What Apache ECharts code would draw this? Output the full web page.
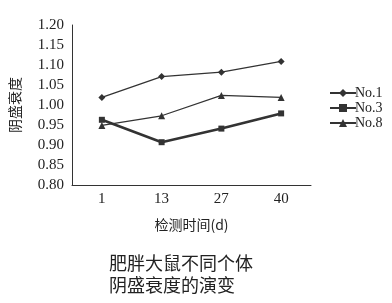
<!DOCTYPE html>
<html><head><meta charset="utf-8">
<script src="https://cdn.jsdelivr.net/npm/echarts@6/dist/echarts.min.js"></script>
<style>html,body{margin:0;padding:0;background:#fff}#c{width:392px;height:303px}</style>
</head><body><div id="c"></div>
<script>
const categories = ['1', '13', '27', '40'];
const no1 = [1.019, 1.071, 1.082, 1.109];
const no3 = [0.963, 0.907, 0.941, 0.979];
const no8 = [0.949, 0.973, 1.024, 1.019];
const seriesNames = ['No.1', 'No.3', 'No.8'];
const yTicks = {min: 0.80, max: 1.20, interval: 0.05};

const serif = '"Liberation Serif", "DejaVu Serif", serif';
const cjk = '"Noto Sans CJK SC", sans-serif';
const ink = '#333';
const chart = echarts.init(document.getElementById('c'));
function s(name, data, symbol, width, size) {
  return {
    name, type: 'line', data, symbol, symbolSize: size,
    lineStyle: {color: ink, width}, itemStyle: {color: ink},
    emphasis: {disabled: true}, animation: false
  };
}
chart.setOption({
  animation: false,
  grid: {left: 66, top: 25, right: 81, bottom: 118},
  title: {
    text: '肥胖大鼠不同个体\n阴盛衰度的演变',
    left: 104, top: 247,
    textStyle: {fontFamily: cjk, fontSize: 18, fontWeight: 'normal', color: '#222', lineHeight: 22}
  },
  legend: {
    orient: 'vertical', left: 324, top: 81, itemGap: 1, itemWidth: 26, itemHeight: 10,
    data: seriesNames,
    textStyle: {fontFamily: serif, fontSize: 14, color: '#222', padding: [0,0,0,-6]}
  },
  xAxis: {
    type: 'category', data: categories, boundaryGap: true,
    name: '检测时间(d)', nameLocation: 'middle', nameGap: 33,
    nameTextStyle: {fontFamily: cjk, fontSize: 14, color: '#222'},
    axisLine: {lineStyle: {color: ink, width: 1}},
    axisTick: {inside: true, length: 3, lineStyle: {color: ink}},
    axisLabel: {fontFamily: serif, fontSize: 15, color: '#222', margin: 7}
  },
  yAxis: {
    type: 'value', min: yTicks.min, max: yTicks.max, interval: yTicks.interval,
    name: '阴盛衰度', nameLocation: 'middle', nameGap: 50, nameRotate: 90,
    nameTextStyle: {fontFamily: cjk, fontSize: 14, color: '#222'},
    axisLine: {show: true, lineStyle: {color: ink, width: 1}},
    axisTick: {show: false},
    splitLine: {show: false},
    axisLabel: {fontFamily: serif, fontSize: 15, color: '#222', margin: 8,
      formatter: v => v.toFixed(2)}
  },
  series: [
    s(seriesNames[0], no1, 'diamond', 1.2, 7),
    s(seriesNames[1], no3, 'rect', 2.6, 6),
    s(seriesNames[2], no8, 'triangle', 1.2, 7)
  ]
});
</script></body></html>
